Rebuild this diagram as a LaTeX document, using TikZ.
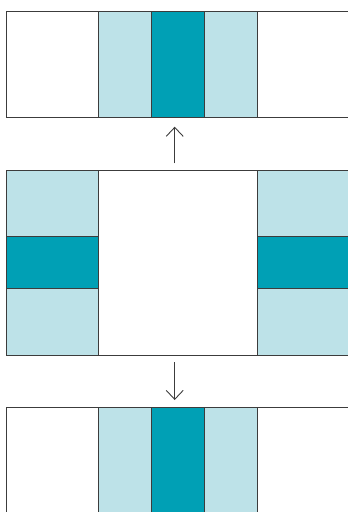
\documentclass[tikz,border=0pt]{standalone}
\usetikzlibrary{arrows.meta}
\definecolor{lightc}{HTML}{BDE2E8}
\definecolor{darkc}{HTML}{00A0B5}
\definecolor{linec}{HTML}{3C3C3C}
\begin{document}
\begin{tikzpicture}[x=1pt,y=-1pt,
  cell/.style={draw=linec,line width=0.9pt,inner sep=0pt,outer sep=0pt,anchor=north west},
  wcell/.style={cell,fill=white},
  lcell/.style={cell,fill=lightc},
  dcell/.style={cell,fill=darkc},
  conn/.style={draw=linec,line width=0.9pt,-{Straight Barb[length=9pt,width=17pt,line width=0.9pt]}}]
\useasboundingbox (0,0) rectangle (348,512);
% top panel
\node[wcell,minimum width=92.7pt,minimum height=105.7pt] (t1) at (6,11.7) {};
\node[lcell,minimum width=52.6pt,minimum height=105.7pt] (t2) at (98.7,11.7) {};
\node[dcell,minimum width=52.7pt,minimum height=105.7pt] (t3) at (151.3,11.7) {};
\node[lcell,minimum width=53pt,minimum height=105.7pt] (t4) at (204,11.7) {};
\node[wcell,minimum width=100pt,minimum height=105.7pt] (t5) at (257,11.7) {};
% middle panel
\node[lcell,minimum width=92.7pt,minimum height=66.3pt] (m1) at (6,170) {};
\node[dcell,minimum width=92.7pt,minimum height=52.4pt] (m2) at (6,236.3) {};
\node[lcell,minimum width=92.7pt,minimum height=66.3pt] (m3) at (6,288.7) {};
\node[wcell,minimum width=158.3pt,minimum height=185pt] (m4) at (98.7,170) {};
\node[lcell,minimum width=100pt,minimum height=66.3pt] (m5) at (257,170) {};
\node[dcell,minimum width=100pt,minimum height=52.4pt] (m6) at (257,236.3) {};
\node[lcell,minimum width=100pt,minimum height=66.3pt] (m7) at (257,288.7) {};
% bottom panel
\node[wcell,minimum width=92.7pt,minimum height=120pt] (b1) at (6,407.7) {};
\node[lcell,minimum width=52.6pt,minimum height=120pt] (b2) at (98.7,407.7) {};
\node[dcell,minimum width=52.7pt,minimum height=120pt] (b3) at (151.3,407.7) {};
\node[lcell,minimum width=53pt,minimum height=120pt] (b4) at (204,407.7) {};
\node[wcell,minimum width=100pt,minimum height=120pt] (b5) at (257,407.7) {};
% arrows
\coordinate (u0) at (174.7,163.3);
\coordinate (u1) at (174.7,126.7);
\coordinate (d0) at (174.7,362.3);
\coordinate (d1) at (174.7,400);
\draw[conn] (u0) -- (u1);
\draw[conn] (d0) -- (d1);
\end{tikzpicture}
\end{document}
